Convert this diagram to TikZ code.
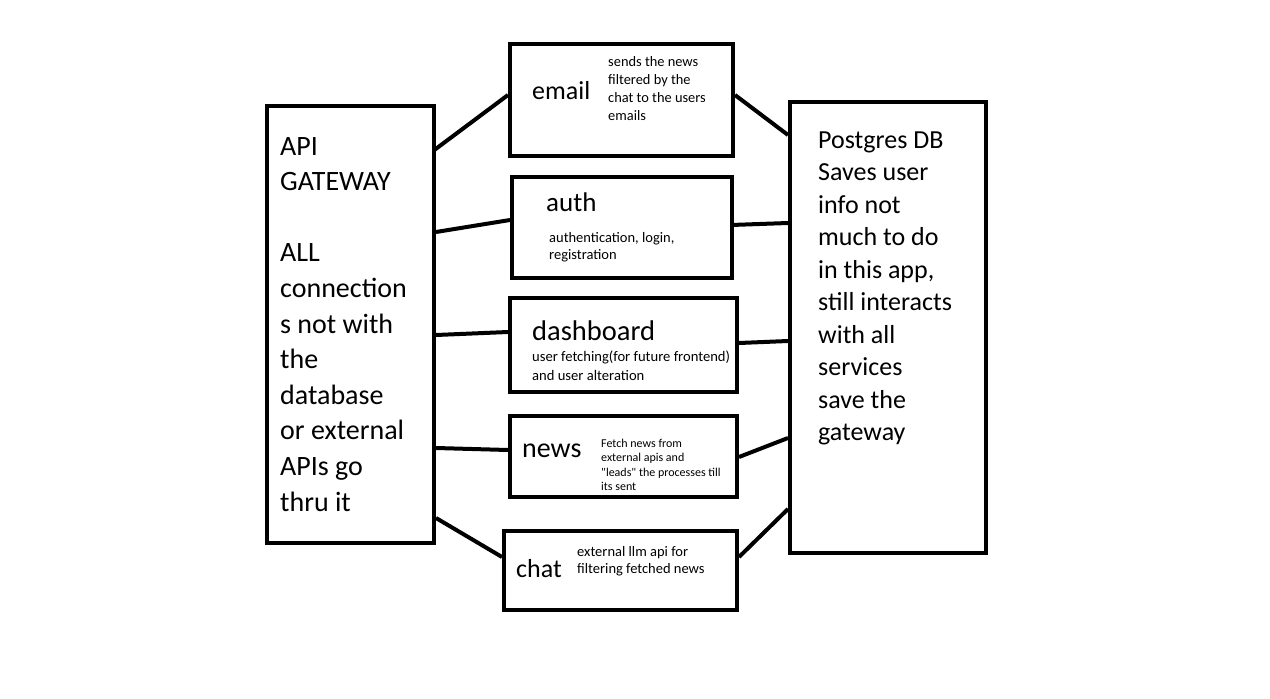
\documentclass[tikz,border=0pt]{standalone}
\usepackage{fontspec}
\setmainfont{Carlito}[Ligatures=TeXOff]
\usetikzlibrary{calc}

\begin{document}
\begin{tikzpicture}[
    x=1pt, y=-1pt,
    box/.style={rectangle, draw=black, line width=4pt, inner sep=0pt},
    label/.style={anchor=base west, inner sep=0pt, align=left},
    link/.style={draw=black, line width=4pt}
]

    \path [fill=white] (0,0) rectangle (1270,699);
    \useasboundingbox (0,0) rectangle (1270,699);

    \node (gateway) [box, minimum width=167pt, minimum height=437pt] at (350.5,324.5) {};
    \node (email) [box, minimum width=223pt, minimum height=112pt] at (621.5,100) {};
    \node (auth) [box, minimum width=220pt, minimum height=101pt] at (622,227.5) {};
    \node (dashboard) [box, minimum width=227pt, minimum height=94pt] at (623.5,345) {};
    \node (news) [box, minimum width=227pt, minimum height=81pt] at (623.5,456.5) {};
    \node (chat) [box, minimum width=233pt, minimum height=79pt] at (620.5,570.5) {};
    \node (db) [box, minimum width=196pt, minimum height=451pt] at (888,327.5) {};

    % multi-line labels sit on the baseline of their last line
    \node (gatewaytext) [label, font=\fontsize{28}{35.6}\selectfont] at (280,511)
        {API\\GATEWAY\\[35.6pt]ALL\\connection\\s not with\\the\\database\\or external\\APIs go\\thru it};
    \node (dbtext) [label, font=\fontsize{26}{32.5}\selectfont] at (818,440.5)
        {Postgres DB\\Saves user\\info not\\much to do\\in this app,\\still interacts\\with all\\services\\save the\\gateway};

    \node (emailtitle) [label, font=\fontsize{26}{32}\selectfont] at (532,99) {email};
    \node (emaildesc) [label, font=\fontsize{14.4}{18}\selectfont] at (608,120)
        {sends the news\\filtered by the\\chat to the users\\emails};
    \node (authtitle) [label, font=\fontsize{27}{32}\selectfont] at (546,211) {auth};
    \node (authdesc) [label, font=\fontsize{14.5}{17.5}\selectfont] at (549,259.5)
        {authentication, login,\\registration};
    \node (dashtitle) [label, font=\fontsize{28.5}{34}\selectfont] at (532,340) {dashboard};
    \node (dashdesc) [label, font=\fontsize{14.6}{19}\selectfont] at (532,380)
        {user fetching(for future frontend)\\and user alteration};
    \node (newstitle) [label, font=\fontsize{28}{34}\selectfont] at (522,457) {news};
    \node (newsdesc) [label, font=\fontsize{12}{14.5}\selectfont] at (601,490.5)
        {Fetch news from\\external apis and\\"leads" the processes till\\its sent};
    \node (chattitle) [label, font=\fontsize{26}{32}\selectfont] at (516,577) {chat};
    \node (chatdesc) [label, font=\fontsize{14.5}{17.5}\selectfont] at (577,573.5)
        {external llm api for\\filtering fetched news};

    \draw [link] ($(gateway.north east)+(-3,47)$) -- ($(email.north west)+(0,53)$);
    \draw [link] ($(gateway.north east)+(0,128)$) -- ($(auth.north west)+(0,45)$);
    \draw [link] ($(gateway.north east)+(0,231)$) -- ($(dashboard.north west)+(0,36)$);
    \draw [link] ($(gateway.north east)+(0,344)$) -- ($(news.north west)+(0,36)$);
    \draw [link] ($(gateway.north east)+(0,414)$) -- ($(chat.north west)+(0,28)$);

    \draw [link] ($(email.north east)+(0,53)$) -- ($(db.north west)+(0,35)$);
    \draw [link] ($(auth.north east)+(-3,50)$) -- ($(db.north west)+(0,123)$);
    \draw [link] ($(dashboard.north east)+(0,47)$) -- ($(db.north west)+(0,241)$);
    \draw [link] ($(news.north east)+(0,43)$) -- ($(db.north west)+(0,338)$);
    \draw [link] ($(chat.north east)+(0,28)$) -- ($(db.north west)+(0,409)$);

\end{tikzpicture}
\end{document}
